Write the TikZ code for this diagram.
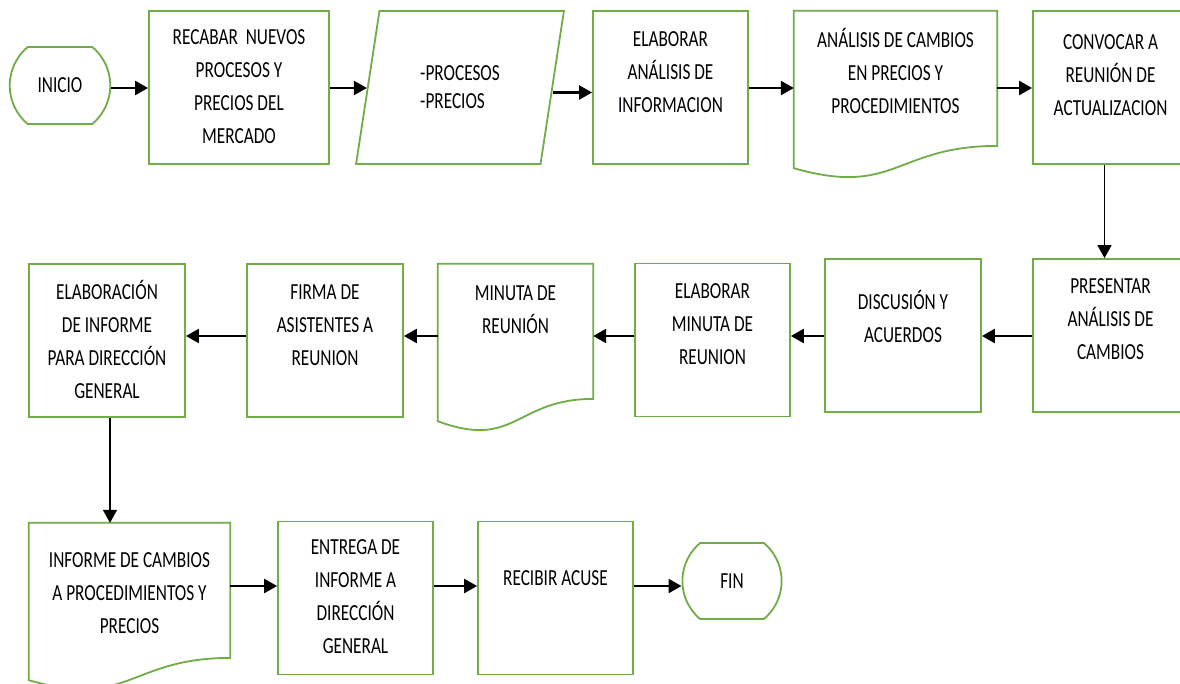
\documentclass[tikz,border=0pt]{standalone}
\usepackage{fontspec}
\setmainfont{Carlito}[FakeStretch=0.75]
\usepackage{tikz}
\usetikzlibrary{arrows.meta,shapes.geometric,shapes.misc}
\definecolor{verde}{RGB}{112,173,71}
\newcommand{\renglones}[1]{\begin{tabular}[t]{@{}c@{}}#1\end{tabular}}

\begin{document}
\begin{tikzpicture}[x=1pt,y=-1pt,
    letra/.style={font=\fontsize{23}{33}\selectfont},
    proceso/.style={letra,draw=verde,line width=1.8pt,rectangle,minimum width=155pt,minimum height=153pt,
        inner sep=0pt,text height=35pt,text depth=118pt},
    documento/.style={letra,rectangle,minimum width=155pt,minimum height=168pt,
        inner sep=0pt,text height=36pt,text depth=132pt},
    terminal/.style={letra,draw=verde,line width=1.8pt,rounded rectangle,rounded rectangle arc length=100,
        minimum width=100pt,minimum height=77pt,inner sep=0pt},
    entrada/.style={draw=verde,line width=1.8pt,trapezium,trapezium left angle=75,trapezium right angle=105,
        trapezium stretches=true,minimum width=208pt,minimum height=153pt,inner sep=0pt,align=left,
        font=\fontsize{23}{28}\selectfont},
    borde/.style={draw=verde,line width=1.8pt},
    flecha/.style={line width=2.5pt,-{Triangle[length=13pt,width=14pt]}}]

        \useasboundingbox (0,0) rectangle (1180,683);
        \clip (0,0) rectangle (1180,683);
        \fill[white] (0,0) rectangle (1180,683);

        \coordinate (fila1) at (0,88);
        \coordinate (fila2) at (0,336);
        \coordinate (fila3) at (0,586);

        % primera fila
        \node[terminal] (inicio) at (60,85.5) {INICIO};
        \node[proceso,minimum width=180pt,text height=33pt,text depth=120pt] (recabar) at (239,87.5) {\renglones{RECABAR\ \ NUEVOS\\PROCESOS Y\\PRECIOS DEL\\MERCADO}};
        \node[entrada] (datos) at (460,87.5) {-PROCESOS\\-PRECIOS};
        \node[proceso] (elaborar) at (670.5,87.5) {\renglones{ELABORAR\\ANÁLISIS DE\\INFORMACION}};
        \node[documento,minimum width=203pt] (cambios) at (895.5,95) {\renglones{ANÁLISIS DE CAMBIOS\\EN PRECIOS Y\\PROCEDIMIENTOS}};
        \node[proceso,text height=38pt,text depth=115pt] (convocar) at (1110.5,87.5) {\renglones{CONVOCAR A\\REUNIÓN DE\\ACTUALIZACION}};

        % segunda fila
        \node[proceso,text height=34pt,text depth=119pt] (presentar) at (1110.5,335.5) {\renglones{PRESENTAR\\ANÁLISIS DE\\CAMBIOS}};
        \node[proceso,minimum width=156pt,text height=50pt,text depth=103pt] (discusion) at (903,335.5) {\renglones{DISCUSIÓN Y\\ACUERDOS}};
        \node[proceso] (elabmin) at (712.5,340) {\renglones{ELABORAR\\MINUTA DE\\REUNION}};
        \node[documento] (minuta) at (515.5,348) {\renglones{MINUTA DE\\REUNIÓN}};
        \node[proceso,minimum width=156pt] (firma) at (325,340.5) {\renglones{FIRMA DE\\ASISTENTES A\\REUNION}};
        \node[proceso,minimum width=156pt] (elaboracion) at (107,340.5) {\renglones{ELABORACIÓN\\DE INFORME\\PARA DIRECCIÓN\\GENERAL}};

        % tercera fila
        \node[documento,minimum width=201pt,text height=44pt,text depth=124pt] (informe) at (129.5,607) {\renglones{INFORME DE CAMBIOS\\A PROCEDIMIENTOS Y\\PRECIOS}};
        \node[proceso,text height=33pt,text depth=120pt] (entrega) at (355.5,598) {\renglones{ENTREGA DE\\INFORME A\\DIRECCIÓN\\GENERAL}};
        \node[proceso,text height=64pt,text depth=89pt] (acuse) at (555.5,598) {RECIBIR ACUSE};
        \node[terminal,minimum width=94pt,minimum height=76pt] (fin) at (732,581) {FIN};

        % contorno de los documentos
        \foreach \d in {cambios,minuta,informe}
            \draw[borde] (\d.north west) -- (\d.north east) -- ([yshift=33.3pt]\d.south east)
                .. controls ([yshift=33.3pt]\d.south) and ([yshift=-18pt]\d.south) .. ([yshift=11pt]\d.south west) -- cycle;

        % conectores
        \draw[flecha] (inicio.east |- fila1) -- (recabar.west |- fila1);
        \draw[flecha] (recabar.east |- fila1) -- (datos.west |- fila1);
        \draw[flecha] ([yshift=-5pt]datos.east) -- ([yshift=-5pt]datos.east -| elaborar.west);
        \draw[flecha] (elaborar.east |- fila1) -- (cambios.west |- fila1);
        \draw[flecha] (cambios.east |- fila1) -- (convocar.west |- fila1);
        \draw[flecha,line width=1.5pt] ([xshift=-6pt]convocar.south) -- ([xshift=-6pt]presentar.north);

        \draw[flecha] (presentar.west |- fila2) -- (discusion.east |- fila2);
        \draw[flecha] (discusion.west |- fila2) -- (elabmin.east |- fila2);
        \draw[flecha] (elabmin.west |- fila2) -- (minuta.east |- fila2);
        \draw[flecha] (minuta.west |- fila2) -- (firma.east |- fila2);
        \draw[flecha] (firma.west |- fila2) -- (elaboracion.east |- fila2);
        \draw[flecha,line width=1.5pt] ([xshift=3pt]elaboracion.south) -- ([xshift=3pt]elaboracion.south |- informe.north);

        \draw[flecha] (informe.east |- fila3) -- (entrega.west |- fila3);
        \draw[flecha] (entrega.east |- fila3) -- (acuse.west |- fila3);
        \draw[flecha] (acuse.east |- fila3) -- (fin.west |- fila3);
\end{tikzpicture}
\end{document}
